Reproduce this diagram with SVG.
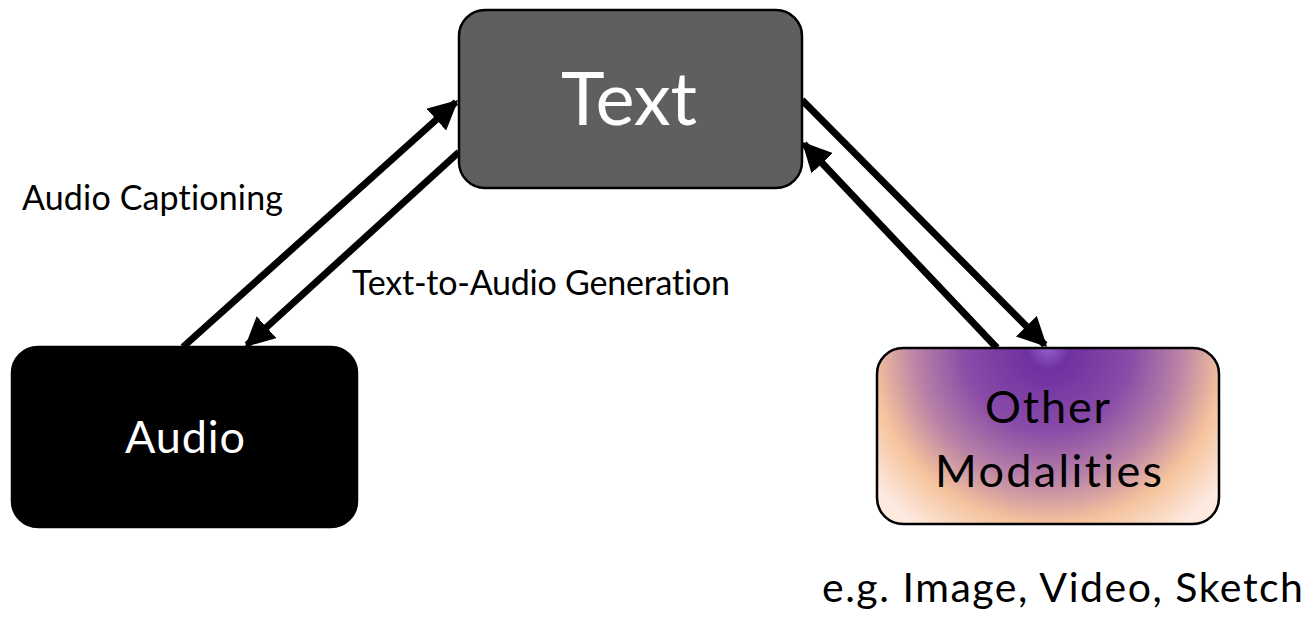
<svg xmlns="http://www.w3.org/2000/svg" width="1312" height="620" viewBox="0 0 1312 620">
  <style>
    .box { stroke: #000; stroke-width: 2.5; }
    .lbl { font-family: Lato, "Open Sans", "Liberation Sans", sans-serif; font-variant-ligatures: none; }
    .edge { stroke: #000; stroke-width: 7; fill: none; }
  </style>
  <defs>
    <marker id="arrow" viewBox="0 0 10 10" refX="9" refY="5" markerWidth="4.2" markerHeight="4.2" markerUnits="strokeWidth" orient="auto">
      <path d="M0,0 L10,5 L0,10 Z" fill="#000"/>
    </marker>
    <radialGradient id="modalFill" gradientUnits="userSpaceOnUse" cx="1048" cy="348" r="220">
      <stop offset="0" stop-color="#9060c8"/>
      <stop offset="0.1" stop-color="#7030a0"/>
      <stop offset="0.38" stop-color="#8a4ca8"/>
      <stop offset="0.6" stop-color="#b982a6"/>
      <stop offset="0.8" stop-color="#f5c39d"/>
      <stop offset="1" stop-color="#fde9de"/>
    </radialGradient>
  </defs>

  <rect width="1312" height="620" fill="#fff"/>

  <g id="connectors">
    <line class="edge" x1="183" y1="347" x2="456" y2="102" marker-end="url(#arrow)"/>
    <line class="edge" x1="459" y1="152" x2="247" y2="345" marker-end="url(#arrow)"/>
    <line class="edge" x1="802" y1="100" x2="1045" y2="345" marker-end="url(#arrow)"/>
    <line class="edge" x1="997" y1="348" x2="804" y2="144" marker-end="url(#arrow)"/>
  </g>

  <g id="node-text">
    <rect class="box" x="459" y="10" width="343" height="178" rx="26" fill="#5f5f5f"/>
    <text class="lbl" x="561" y="125" font-size="74" fill="#fff" textLength="136">Text</text>
  </g>

  <g id="node-audio">
    <rect class="box" x="12" y="347" width="345" height="180" rx="26" fill="#000"/>
    <text class="lbl" x="125" y="453" font-size="45" fill="#fff" textLength="120">Audio</text>
  </g>

  <g id="node-other">
    <rect class="box" x="877" y="348" width="342" height="176" rx="26" fill="url(#modalFill)"/>
    <text class="lbl" x="985" y="423" font-size="45" fill="#000" textLength="125">Other</text>
    <text class="lbl" x="935" y="487" font-size="45" fill="#000" textLength="227">Modalities</text>
  </g>

  <g id="labels">
    <text class="lbl" x="22" y="210" font-size="34" fill="#000" textLength="261">Audio Captioning</text>
    <text class="lbl" x="352" y="295" font-size="34" fill="#000" textLength="378">Text-to-Audio Generation</text>
    <text class="lbl" x="822" y="602" font-size="41" fill="#000" textLength="481">e.g. Image, Video, Sketch</text>
  </g>
</svg>
